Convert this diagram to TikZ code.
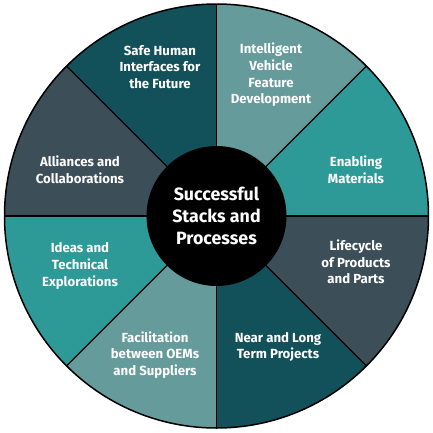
\documentclass[tikz,border=0pt]{standalone}
\usepackage{fontspec}
\setmainfont{Fira Sans}
\usetikzlibrary{positioning}

\definecolor{deepteal}{HTML}{12505A}
\definecolor{grayteal}{HTML}{669B9B}
\definecolor{brightteal}{HTML}{2D9A98}
\definecolor{slate}{HTML}{3C4F58}

\tikzset{
  spoke/.style={draw=black, line width=1.2pt},
  label/.style={text=white, font=\bfseries\fontsize{13.2}{16.7}\selectfont, align=center},
  hub/.style={circle, fill=black, minimum size=140pt, inner sep=0pt,
    text=white, font=\bfseries\fontsize{17.8}{21.7}\selectfont, align=center}
}

\begin{document}
\begin{tikzpicture}[x=1pt,y=1pt]
    \useasboundingbox (-216.5,-216) rectangle (216.5,216);

    % Sectors
    \foreach \start/\col in {0/brightteal, 45/grayteal, 90/deepteal, 135/slate,
                             180/brightteal, 225/grayteal, 270/deepteal, 315/slate} {
        \fill[\col] (0,0) -- (\start:212) arc[start angle=\start, delta angle=45, radius=212] -- cycle;
    }

    % Spokes
    \foreach \a in {0,45,...,315} {
        \draw[spoke] (0,0) -- (\a:212);
    }
    \draw[line width=1.5pt] (0,0) circle (212);

    % Hub
    \node[hub] (hub) at (0,0) {Successful\\Stacks and\\Processes};

    % Labels
    \node[label] (safe) at (-56.5,149) {Safe Human\\Interfaces for\\the Future};
    \node[label] (intel) at (54.5,141) {Intelligent\\Vehicle\\Feature\\Development};
    \node[label] (enabling) at (139.5,46) {Enabling\\Materials};
    \node[label] (lifecycle) at (139.5,-46) {Lifecycle\\of Products\\and Parts};
    \node[label] (near) at (61.5,-131) {Near and Long\\Term Projects};
    \node[label] (facil) at (-61.5,-139) {Facilitation\\between OEMs\\and Suppliers};
    \node[label] (ideas) at (-136.5,-50) {Ideas and\\Technical\\Explorations};
    \node[label] (alliances) at (-136.5,46) {Alliances and\\Collaborations};
\end{tikzpicture}
\end{document}
